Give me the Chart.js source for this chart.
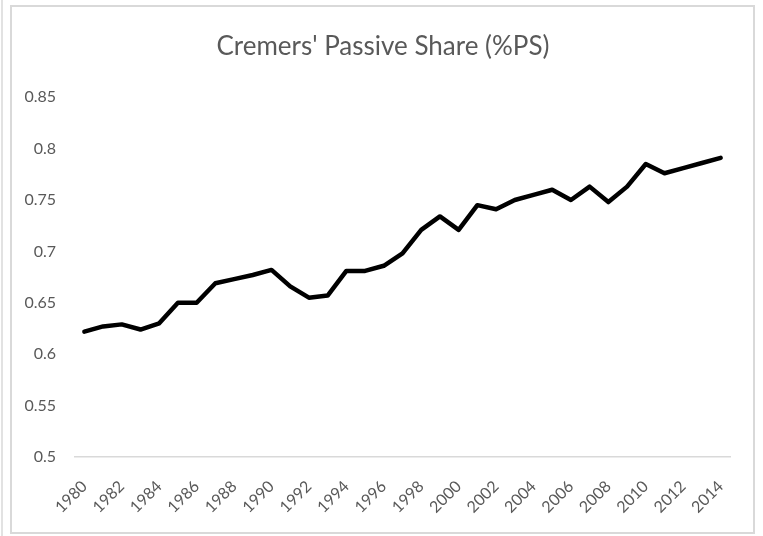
<!DOCTYPE html>
<html>
<head>
<meta charset="utf-8">
<script src="https://cdn.jsdelivr.net/npm/chart.js@4/dist/chart.umd.min.js"></script>
<style>
  html, body { margin: 0; padding: 0; background: #ffffff; }
  #wrap { position: relative; width: 763px; height: 536px; overflow: hidden; }
  #frame { position: absolute; left: 10px; top: 5px; width: 745px; height: 529px; border: 2px solid #d9d9d9; box-sizing: border-box; }
  #edge { position: absolute; left: 1px; top: 0; width: 2px; height: 536px; background: #e2e2e2; }
  canvas { position: absolute; left: 0; top: 0; }
</style>
</head>
<body>
<div id="wrap">
  <div id="edge"></div>
  <div id="frame"></div>
  <canvas id="c" width="763" height="536"></canvas>
</div>
<script>
const chartTitle = "Cremers' Passive Share (%PS)";
const years = ["1980","1981","1982","1983","1984","1985","1986","1987","1988","1989",
               "1990","1991","1992","1993","1994","1995","1996","1997","1998","1999",
               "2000","2001","2002","2003","2004","2005","2006","2007","2008","2009",
               "2010","2011","2012","2013","2014"];
const passiveShare = [0.622, 0.627, 0.629, 0.624, 0.630, 0.650, 0.650, 0.669, 0.673, 0.677,
                      0.682, 0.666, 0.655, 0.657, 0.681, 0.681, 0.686, 0.698, 0.721, 0.734,
                      0.721, 0.745, 0.741, 0.750, 0.755, 0.760, 0.750, 0.763, 0.748, 0.763,
                      0.785, 0.776, 0.781, 0.786, 0.791];
const yTicks = [0.5, 0.55, 0.6, 0.65, 0.7, 0.75, 0.8, 0.85];

const textColor = '#595959';
const fontFamily = "Lato, 'Open Sans', sans-serif";

new Chart(document.getElementById('c'), {
  type: 'line',
  data: {
    labels: years,
    datasets: [{
      data: passiveShare,
      yAxisID: 'y',
      borderColor: '#000000',
      borderWidth: 4.5,
      pointRadius: 0,
      tension: 0,
      fill: false,
      borderCapStyle: 'round',
      borderJoinStyle: 'round'
    }]
  },
  options: {
    responsive: false,
    animation: false,
    layout: { padding: { left: 6, right: 3, top: 0, bottom: 0 } },
    plugins: {
      legend: { display: false },
      tooltip: { enabled: false },
      title: {
        display: true,
        text: chartTitle,
        color: textColor,
        font: { family: fontFamily, size: 26, weight: 'normal', lineHeight: 1.2 },
        padding: { top: 31, bottom: 35 }
      }
    },
    scales: {
      x: {
        type: 'category',
        offset: true,
        grid: { display: false, drawTicks: false },
        border: { display: true, color: '#d9d9d9', width: 1.5 },
        ticks: {
          autoSkip: false,
          minRotation: 45,
          maxRotation: 45,
          padding: 20,
          color: textColor,
          font: { family: fontFamily, size: 16 },
          callback: function(v, i) { return i % 2 === 0 ? years[i] : ''; }
        },
        afterFit: function(s) { s.height = 79; }
      },
      y: {
        position: 'left',
        min: 0.5,
        max: 0.85,
        grid: { display: false, drawTicks: false },
        border: { display: false },
        afterBuildTicks: function(s) { s.ticks = yTicks.map(v => ({ value: v })); },
        ticks: {
          padding: 19,
          color: textColor,
          font: { family: fontFamily, size: 16 },
          callback: function(v) { return String(parseFloat(v.toFixed(2))); }
        },
        afterFit: function(s) { s.width = 69; }
      },
      spacer: {
        position: 'right',
        display: true,
        min: 0,
        max: 1,
        grid: { display: false, drawTicks: false },
        border: { display: false },
        ticks: { display: false },
        afterFit: function(s) { s.width = 30; }
      }
    }
  }
});
</script>
</body>
</html>
